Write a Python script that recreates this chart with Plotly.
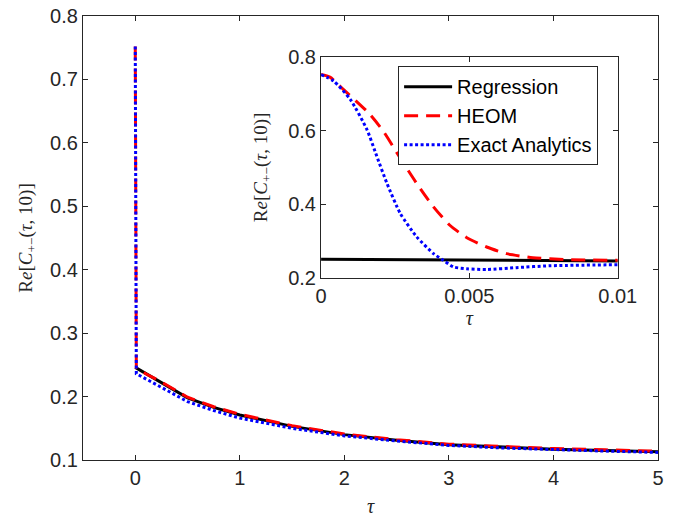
import plotly.graph_objects as go

# ---- main panel data ----
main_tau = [0.0, 0.0, 0.01, 0.1, 0.25, 0.5, 0.75, 1.0, 1.5, 2.0, 2.5, 3.0, 3.5, 4.0, 4.5, 5.0]
reg_main = [0.246, 0.246, 0.245, 0.236, 0.222, 0.198, 0.183, 0.171, 0.153, 0.140, 0.131, 0.124, 0.120, 0.117, 0.115, 0.113]
heom_main = [0.752, 0.752, 0.246, 0.236, 0.223, 0.199, 0.184, 0.172, 0.154, 0.141, 0.132, 0.125, 0.121, 0.118, 0.116, 0.114]
exact_main = [0.752, 0.752, 0.236, 0.228, 0.215, 0.192, 0.178, 0.166, 0.150, 0.138, 0.130, 0.123, 0.119, 0.116, 0.114, 0.112]

# ---- inset data ----
reg_tau = [0.0, 0.01]
reg_ins = [0.251, 0.246]
heom_tau = [0.0, 0.0003, 0.00076, 0.0016, 0.0021, 0.00267, 0.00322, 0.00379, 0.00434, 0.0049, 0.00558, 0.00625, 0.00714, 0.00826, 0.01]
heom_ins = [0.752, 0.745, 0.711, 0.648, 0.598, 0.525, 0.457, 0.393, 0.343, 0.310, 0.284, 0.266, 0.255, 0.250, 0.248]
exact_tau = [0.0, 0.00043, 0.00099, 0.00155, 0.00188, 0.00222, 0.00267, 0.00322, 0.00379, 0.00412, 0.00446, 0.0049, 0.00558, 0.00658, 0.0077, 0.01]
exact_ins = [0.752, 0.734, 0.684, 0.602, 0.530, 0.457, 0.375, 0.312, 0.266, 0.248, 0.230, 0.225, 0.223, 0.228, 0.233, 0.236]

names = ["Regression", "HEOM", "Exact Analytics"]
AX = "#262626"
BLACK, RED, BLUE = "#000000", "#ff0000", "#0000ff"
DASH = "14px,8px"
DOT = "3px,2.5px"

fig = go.Figure()
fig.add_trace(go.Scatter(x=main_tau, y=reg_main, mode="lines",
                         line=dict(color=BLACK, width=3), showlegend=False))
fig.add_trace(go.Scatter(x=main_tau, y=heom_main, mode="lines",
                         line=dict(color=RED, width=3, dash=DASH), showlegend=False))
fig.add_trace(go.Scatter(x=main_tau, y=exact_main, mode="lines",
                         line=dict(color=BLUE, width=3, dash=DOT), showlegend=False))

fig.add_trace(go.Scatter(x=reg_tau, y=reg_ins, mode="lines", name=names[0],
                         line=dict(color=BLACK, width=3), xaxis="x2", yaxis="y2"))
fig.add_trace(go.Scatter(x=heom_tau, y=heom_ins, mode="lines", name=names[1],
                         line=dict(color=RED, width=3, dash=DASH, shape="spline", smoothing=0.6),
                         xaxis="x2", yaxis="y2"))
fig.add_trace(go.Scatter(x=exact_tau, y=exact_ins, mode="lines", name=names[2],
                         line=dict(color=BLUE, width=3, dash=DOT, shape="spline", smoothing=0.6),
                         xaxis="x2", yaxis="y2"))

SANS = "Liberation Sans, Arial, sans-serif"
SERIF = "Liberation Serif, Times New Roman, serif"
ylab = "R<i>e</i>[<i>C</i><sub>+−</sub>(<i>τ</i>, 10)]"


def axis(**kw):
    d = dict(showgrid=False, zeroline=False, showline=True, linecolor=AX, linewidth=1.2,
             mirror="ticks", ticks="inside", ticklen=5, tickcolor=AX, automargin=False,
             tickfont=dict(family=SANS, size=20, color=AX))
    d.update(kw)
    return d


fig.update_layout(
    width=678, height=518,
    margin=dict(l=83, r=20, t=16, b=58, autoexpand=False),
    font=dict(family=SANS, size=20, color=AX),
    paper_bgcolor="white", plot_bgcolor="white",
    xaxis=axis(domain=[0, 1], range=[-0.5, 5], tickvals=[0, 1, 2, 3, 4, 5],
               title=dict(text="<i>τ</i>", font=dict(family=SERIF, size=20, color=AX), standoff=10)),
    yaxis=axis(domain=[0, 1], range=[0.1, 0.8], tickvals=[0.1, 0.2, 0.3, 0.4, 0.5, 0.6, 0.7, 0.8],
               tickformat=".1f",
               title=dict(text=ylab, font=dict(family=SERIF, size=19, color=AX), standoff=12)),
    xaxis2=axis(domain=[0.414, 0.930], range=[0, 0.01], anchor="y2",
                tickvals=[0, 0.005, 0.01], ticktext=["0", "0.005", "0.01"],
                title=dict(text="<i>τ</i>", font=dict(family=SERIF, size=20, color=AX), standoff=4)),
    yaxis2=axis(domain=[0.410, 0.908], range=[0.2, 0.8], anchor="x2",
                tickvals=[0.2, 0.4, 0.6, 0.8], tickformat=".1f",
                title=dict(text=ylab, font=dict(family=SERIF, size=19, color=AX), standoff=15)),
    legend=dict(x=0.548, y=0.887, xanchor="left", yanchor="top",
                bordercolor=AX, borderwidth=1, bgcolor="white",
                font=dict(family=SANS, size=20, color="#000000"),
                tracegroupgap=0, itemwidth=48),
    showlegend=True,
)

fig.write_html("out.html", config={"displayModeBar": False},
               post_script="document.body.style.margin='0px';")
